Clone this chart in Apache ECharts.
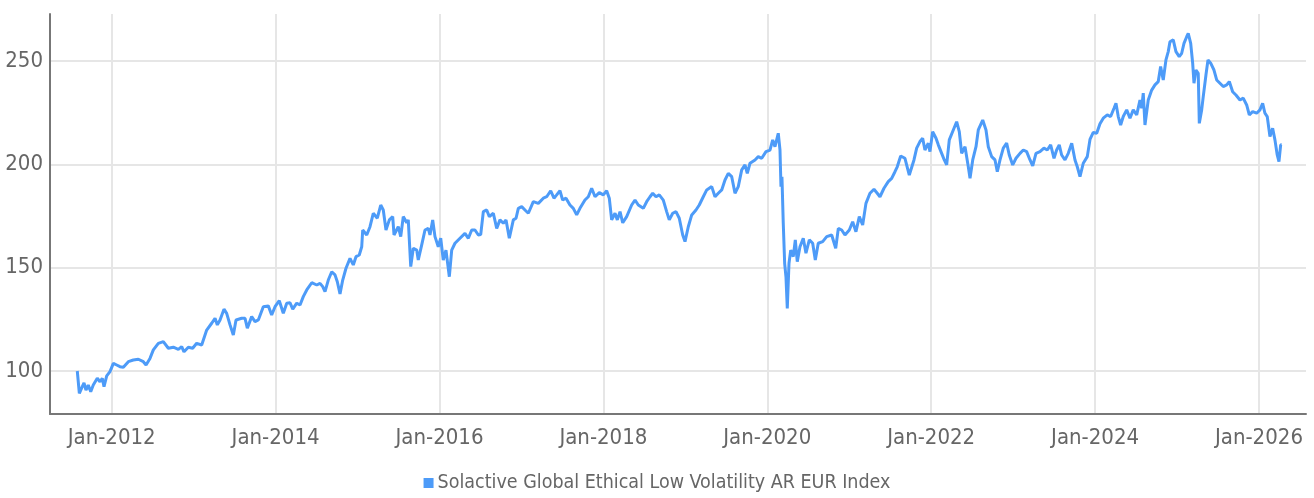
<!DOCTYPE html>
<html>
<head>
<meta charset="utf-8">
<script src="https://cdn.jsdelivr.net/npm/echarts@6/dist/echarts.min.js"></script>
<style>
  html, body { margin: 0; padding: 0; background: #fff; }
  #chart { width: 1314px; height: 498px; }
</style>
</head>
<body>
<div id="chart"></div>
<script>
+(function(window, document, echarts){

    // dates as decimal years
    var years = [
        2011.580, 2011.605, 2011.634, 2011.662, 2011.686, 2011.714, 2011.744, 2011.775, 2011.824, 2011.857,
        2011.885, 2011.906, 2011.939, 2011.979, 2012.020, 2012.061, 2012.101, 2012.142, 2012.203, 2012.264,
        2012.325, 2012.386, 2012.419, 2012.467, 2012.508, 2012.569, 2012.630, 2012.691, 2012.752, 2012.813,
        2012.854, 2012.882, 2012.935, 2012.988, 2013.037, 2013.098, 2013.159, 2013.220, 2013.261, 2013.289,
        2013.322, 2013.370, 2013.403, 2013.444, 2013.484, 2013.517, 2013.586, 2013.627, 2013.655, 2013.708,
        2013.749, 2013.789, 2013.850, 2013.911, 2013.952, 2013.993, 2014.045, 2014.094, 2014.136, 2014.176,
        2014.209, 2014.258, 2014.298, 2014.338, 2014.380, 2014.441, 2014.502, 2014.542, 2014.575, 2014.603,
        2014.643, 2014.685, 2014.725, 2014.753, 2014.786, 2014.819, 2014.859, 2014.908, 2014.948, 2014.981,
        2015.021, 2015.051, 2015.063, 2015.112, 2015.152, 2015.192, 2015.241, 2015.283, 2015.314, 2015.347,
        2015.388, 2015.429, 2015.445, 2015.497, 2015.527, 2015.558, 2015.600, 2015.619, 2015.649, 2015.680,
        2015.722, 2015.741, 2015.783, 2015.823, 2015.863, 2015.884, 2015.917, 2015.945, 2015.985, 2016.015,
        2016.046, 2016.079, 2016.120, 2016.149, 2016.189, 2016.250, 2016.311, 2016.352, 2016.393, 2016.433,
        2016.474, 2016.503, 2016.535, 2016.576, 2016.608, 2016.657, 2016.698, 2016.738, 2016.779, 2016.812,
        2016.852, 2016.901, 2016.934, 2016.962, 2017.003, 2017.043, 2017.084, 2017.145, 2017.206, 2017.267,
        2017.308, 2017.357, 2017.397, 2017.430, 2017.470, 2017.503, 2017.544, 2017.592, 2017.633, 2017.674,
        2017.714, 2017.775, 2017.816, 2017.857, 2017.898, 2017.950, 2017.999, 2018.040, 2018.072, 2018.101,
        2018.142, 2018.170, 2018.203, 2018.236, 2018.284, 2018.345, 2018.386, 2018.426, 2018.487, 2018.528,
        2018.569, 2018.602, 2018.642, 2018.682, 2018.731, 2018.772, 2018.804, 2018.846, 2018.886, 2018.926,
        2018.968, 2018.996, 2019.036, 2019.078, 2019.130, 2019.170, 2019.219, 2019.261, 2019.322, 2019.362,
        2019.402, 2019.444, 2019.484, 2019.524, 2019.566, 2019.606, 2019.646, 2019.688, 2019.728, 2019.756,
        2019.789, 2019.850, 2019.890, 2019.932, 2019.984, 2020.033, 2020.066, 2020.094, 2020.134, 2020.155,
        2020.167, 2020.179, 2020.195, 2020.212, 2020.228, 2020.244, 2020.265, 2020.286, 2020.317, 2020.342,
        2020.366, 2020.399, 2020.439, 2020.472, 2020.513, 2020.554, 2020.586, 2020.622, 2020.676, 2020.725,
        2020.786, 2020.835, 2020.867, 2020.908, 2020.948, 2021.001, 2021.042, 2021.082, 2021.123, 2021.164,
        2021.204, 2021.253, 2021.302, 2021.342, 2021.375, 2021.424, 2021.476, 2021.518, 2021.558, 2021.586,
        2021.628, 2021.680, 2021.733, 2021.790, 2021.823, 2021.863, 2021.896, 2021.924, 2021.965, 2021.985,
        2022.018, 2022.059, 2022.087, 2022.128, 2022.160, 2022.189, 2022.221, 2022.270, 2022.311, 2022.343,
        2022.372, 2022.413, 2022.453, 2022.474, 2022.507, 2022.547, 2022.575, 2022.629, 2022.669, 2022.697,
        2022.738, 2022.779, 2022.807, 2022.840, 2022.880, 2022.921, 2022.953, 2022.995, 2023.035, 2023.084,
        2023.124, 2023.165, 2023.206, 2023.239, 2023.279, 2023.328, 2023.376, 2023.417, 2023.458, 2023.499,
        2023.531, 2023.563, 2023.592, 2023.633, 2023.673, 2023.715, 2023.755, 2023.783, 2023.816, 2023.856,
        2023.905, 2023.938, 2023.978, 2024.020, 2024.060, 2024.100, 2024.149, 2024.190, 2024.231, 2024.255,
        2024.283, 2024.312, 2024.344, 2024.386, 2024.426, 2024.466, 2024.508, 2024.548, 2024.569, 2024.588,
        2024.609, 2024.649, 2024.691, 2024.731, 2024.771, 2024.800, 2024.832, 2024.865, 2024.893, 2024.914,
        2024.954, 2024.987, 2025.027, 2025.057, 2025.085, 2025.118, 2025.137, 2025.167, 2025.191, 2025.207,
        2025.231, 2025.259, 2025.272, 2025.301, 2025.320, 2025.353, 2025.378, 2025.411, 2025.451, 2025.484,
        2025.524, 2025.564, 2025.606, 2025.638, 2025.679, 2025.719, 2025.768, 2025.808, 2025.850, 2025.882,
        2025.923, 2025.972, 2026.012, 2026.045, 2026.073, 2026.101, 2026.134, 2026.167, 2026.195, 2026.223,
        2026.244, 2026.265, 2026.277
    ];
    var values = [
        100.0, 89.2, 91.8, 94.3, 90.8, 93.2, 90.0, 93.2, 96.5, 94.8,
        96.5, 92.4, 97.6, 99.7, 103.7, 102.9, 102.1, 101.8, 104.5, 105.3,
        105.7, 104.5, 102.9, 106.1, 110.2, 113.4, 114.2, 111.0, 111.5, 110.5,
        111.8, 109.3, 111.5, 111.0, 113.4, 112.6, 119.8, 123.1, 125.5, 122.3,
        124.7, 129.9, 127.9, 122.3, 117.4, 124.7, 125.5, 125.5, 120.7, 126.3,
        123.9, 124.7, 131.1, 131.5, 127.1, 131.1, 134.0, 127.9, 132.8, 133.0,
        129.9, 132.8, 131.9, 136.0, 139.2, 142.7, 141.6, 142.4, 140.8, 138.4,
        144.0, 148.0, 146.5, 143.2, 137.3, 144.0, 149.7, 154.5, 151.3, 155.3,
        156.1, 160.1, 168.2, 165.8, 169.8, 176.3, 173.9, 180.3, 177.9, 168.2,
        173.1, 174.7, 165.8, 169.8, 165.0, 174.7, 171.7, 173.1, 150.5, 159.4,
        158.5, 153.7, 161.0, 168.2, 169.0, 165.8, 173.1, 165.0, 160.1, 164.2,
        153.7, 158.5, 145.6, 158.5, 161.8, 164.2, 166.6, 164.2, 168.2, 168.2,
        165.8, 166.0, 177.1, 177.9, 174.7, 176.3, 169.0, 173.1, 171.5, 173.1,
        164.2, 173.1, 173.9, 178.7, 179.5, 177.9, 176.3, 181.9, 181.1, 183.6,
        184.3, 187.2, 183.6, 185.2, 187.2, 182.7, 183.6, 180.3, 178.7, 175.5,
        178.7, 182.7, 184.3, 188.4, 184.3, 186.3, 185.2, 187.2, 183.6, 173.1,
        176.3, 173.1, 177.1, 171.7, 174.7, 180.3, 182.7, 180.3, 178.7, 181.9,
        184.3, 186.0, 184.3, 185.2, 182.7, 177.1, 173.1, 176.3, 177.1, 173.9,
        165.8, 162.6, 169.8, 175.5, 177.9, 180.3, 184.3, 187.6, 189.2, 184.3,
        186.0, 187.6, 192.4, 195.6, 194.0, 186.0, 189.2, 197.3, 199.7, 195.6,
        200.5, 202.1, 203.7, 202.9, 206.1, 206.9, 211.8, 208.5, 215.0, 206.9,
        189.2, 194.0, 171.5, 152.1, 145.6, 130.3, 152.1, 158.5, 155.3, 163.4,
        152.9, 160.1, 164.2, 157.0, 163.4, 161.8, 153.7, 161.8, 162.6, 165.0,
        165.8, 159.4, 169.0, 168.2, 165.8, 168.2, 172.2, 167.4, 174.7, 170.6,
        181.1, 186.0, 187.9, 186.0, 184.3, 188.4, 191.6, 193.2, 196.4, 198.8,
        204.0, 202.9, 194.8, 202.1, 207.8, 211.0, 212.6, 206.9, 210.2, 206.1,
        215.8, 212.6, 209.4, 205.3, 202.1, 199.7, 211.8, 216.6, 220.6, 215.8,
        205.3, 208.5, 198.8, 193.2, 202.1, 208.5, 216.6, 221.4, 216.6, 208.5,
        203.7, 202.1, 196.4, 202.1, 207.8, 210.2, 204.5, 199.7, 202.9, 205.3,
        206.9, 206.1, 202.1, 199.2, 205.3, 206.1, 207.8, 206.9, 209.4, 202.9,
        206.9, 209.4, 204.5, 202.1, 205.3, 210.2, 202.1, 198.8, 194.0, 200.5,
        203.7, 212.0, 215.4, 215.0, 219.6, 222.3, 223.9, 223.1, 227.1, 229.5,
        223.1, 219.0, 223.1, 226.3, 222.3, 226.3, 223.9, 231.1, 227.1, 234.4,
        219.0, 231.1, 235.9, 238.4, 240.0, 247.3, 240.8, 250.5, 254.5, 259.3,
        260.2, 254.5, 252.1, 253.7, 258.5, 261.7, 263.3, 258.5, 248.9, 239.2,
        245.6, 244.0, 219.8, 226.3, 232.7, 243.2, 250.5, 248.9, 245.6, 240.8,
        239.2, 237.6, 238.4, 240.0, 235.1, 233.5, 231.1, 232.0, 228.7, 223.9,
        225.5, 224.7, 226.3, 229.5, 224.7, 223.1, 213.4, 217.4, 211.8, 204.5,
        201.3, 209.4, 209.4
    ];
    var xTicks = [2012, 2014, 2016, 2018, 2020, 2022, 2024, 2026];
    var yTicks = [100, 150, 200, 250];
    var seriesName = 'Solactive Global Ethical Low Volatility AR EUR Index';

    var font = "'Liberation Sans Narrow', 'DejaVu Sans Condensed', sans-serif";
    var points = years.map(function(y, i) { return [y, values[i]]; });

    var option = {
        animation: false,
        textStyle: { fontFamily: font },
        grid: { left: 50, right: 8, top: 14, bottom: 84 },
        legend: {
            data: [seriesName],
            left: 'center',
            top: 468,
            icon: 'rect',
            itemWidth: 10,
            itemHeight: 10,
            itemGap: 10,
            textStyle: { fontFamily: font, fontSize: 19.5, color: '#666', padding: [0, 0, 0, -1] }
        },
        xAxis: {
            type: 'value',
            min: 2011.247,
            max: 2026.574,
            axisLine: { show: true, lineStyle: { color: '#777', width: 2 } },
            axisTick: { show: false, customValues: xTicks },
            axisLabel: {
                customValues: xTicks,
                formatter: function(v) { return 'Jan-' + v; },
                color: '#666', fontSize: 22, margin: 13, fontFamily: font
            },
            splitLine: { show: true, lineStyle: { color: '#e6e6e6', width: 2 } }
        },
        yAxis: {
            type: 'value',
            min: 79.2,
            max: 272.7,
            axisLine: { show: true, lineStyle: { color: '#777', width: 2 } },
            axisTick: { show: false, customValues: yTicks },
            axisLabel: {
                customValues: yTicks,
                color: '#666', fontSize: 22, margin: 7, fontFamily: font
            },
            splitLine: { show: true, lineStyle: { color: '#e6e6e6', width: 2 } }
        },
        series: [{
            name: seriesName,
            type: 'line',
            data: points,
            showSymbol: false,
            color: '#4d9bf8',
            lineStyle: { width: 3, color: '#4d9bf8' }
        }]
    };

    var myChart = echarts.init(document.getElementById('chart'));
    myChart.setOption(option);

})(window, document, echarts);
</script>
</body>
</html>
